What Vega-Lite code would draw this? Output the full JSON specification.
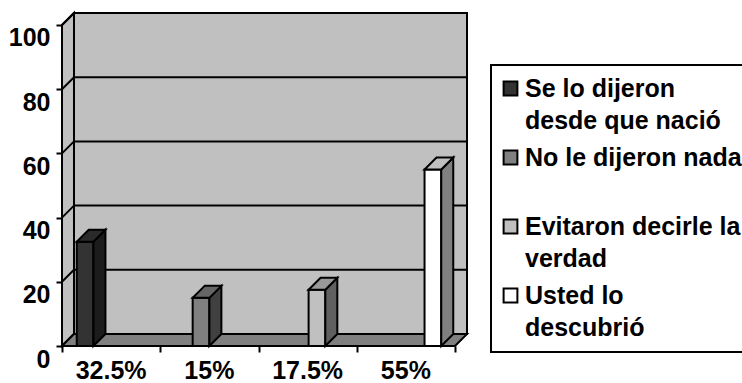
{
  "$schema": "https://vega.github.io/schema/vega-lite/v6.json",
  "width": 405,
  "height": 333,
  "autosize": {"type": "none"},
  "padding": {"left": 62, "top": 13, "right": 275, "bottom": 37},
  "background": "white",
  "params": [
    {"name": "px", "value": 0.1221},
    {"name": "py", "value": 3.738}
  ],
  "datasets": {
    "respuestas": [
      {"respuesta": "Se lo dijeron desde que nació", "porcentaje": 32.5},
      {"respuesta": "No le dijeron nada", "porcentaje": 15},
      {"respuesta": "Evitaron decirle la verdad", "porcentaje": 17.5},
      {"respuesta": "Usted lo descubrió", "porcentaje": 55}
    ],
    "niveles": [
      {"nivel": 0}, {"nivel": 20}, {"nivel": 40}, {"nivel": 60}, {"nivel": 80}, {"nivel": 100}
    ],
    "planos": [{"plano": "caja"}]
  },
  "config": {
    "view": {"stroke": null},
    "font": "Liberation Sans",
    "axis": {"grid": false, "domain": false, "title": null},
    "legend": {
      "orient": "none",
      "legendX": 429,
      "legendY": 52,
      "strokeColor": "black",
      "strokeWidth": 2,
      "fillColor": "white",
      "padding": 11,
      "title": null,
      "symbolType": "square",
      "symbolSize": 190,
      "symbolOffset": -4,
      "symbolStrokeColor": "black",
      "symbolStrokeWidth": 2,
      "symbolOpacity": 1,
      "labelFont": "Liberation Sans",
      "labelFontSize": 25,
      "labelFontWeight": "bold",
      "labelColor": "black",
      "labelOffset": 2,
      "labelLimit": 0,
      "labelBaseline": "middle",
      "rowPadding": 11
    }
  },
  "layer": [
    {
      "data": {"name": "planos"},
      "transform": [
        {"calculate": "px", "as": "x0"},
        {"calculate": "4 + px", "as": "x1"},
        {"calculate": "py", "as": "y0"},
        {"calculate": "100 + py", "as": "y1"}
      ],
      "mark": {"type": "rect", "fill": "#c0c0c0", "stroke": "black", "strokeWidth": 2},
      "encoding": {
        "x": {
          "field": "x0", "type": "quantitative", "title": null,
          "scale": {"domain": [0, 4.1221], "nice": false, "zero": false},
          "axis": {
            "values": [0, 1, 2, 3, 4], "labels": false, "domain": false, "grid": false,
            "ticks": true, "tickSize": 6, "tickWidth": 2, "tickColor": "black", "title": null
          }
        },
        "x2": {"field": "x1"},
        "y": {
          "field": "y0", "type": "quantitative", "title": null,
          "scale": {"domain": [0, 103.738], "nice": false, "zero": false},
          "axis": {
            "values": [0, 20, 40, 60, 80, 100], "domain": false, "grid": false,
            "ticks": true, "tickSize": 6, "tickWidth": 2, "tickColor": "black",
            "labelFont": "Liberation Sans", "labelFontSize": 25, "labelFontWeight": "bold",
            "labelColor": "black", "labelPadding": 6, "labelOffset": 13, "title": null
          }
        },
        "y2": {"field": "y1"}
      }
    },
    {
      "data": {"name": "niveles"},
      "transform": [
        {"calculate": "px", "as": "x0"},
        {"calculate": "4 + px", "as": "x1"},
        {"calculate": "datum.nivel + py", "as": "yf"}
      ],
      "mark": {"type": "rule", "stroke": "black", "strokeWidth": 2},
      "encoding": {
        "x": {"field": "x0", "type": "quantitative", "title": null},
        "x2": {"field": "x1"},
        "y": {"field": "yf", "type": "quantitative", "title": null}
      }
    },
    {
      "data": {"name": "planos"},
      "transform": [
        {"calculate": "[0, 1]", "as": "z"},
        {"flatten": ["z"]},
        {"calculate": "datum.z * px", "as": "sx"},
        {"calculate": "datum.z * py", "as": "y0"},
        {"calculate": "100 + datum.z * py", "as": "y1"}
      ],
      "mark": {"type": "area", "orient": "vertical", "fill": "#c0c0c0", "stroke": "black", "strokeWidth": 2},
      "encoding": {
        "x": {"field": "sx", "type": "quantitative", "title": null},
        "y": {"field": "y0", "type": "quantitative", "title": null},
        "y2": {"field": "y1"}
      }
    },
    {
      "data": {"name": "niveles"},
      "transform": [
        {"calculate": "0", "as": "x0"},
        {"calculate": "px", "as": "x1"},
        {"calculate": "datum.nivel + py", "as": "yf"}
      ],
      "mark": {"type": "rule", "stroke": "black", "strokeWidth": 2},
      "encoding": {
        "x": {"field": "x0", "type": "quantitative", "title": null},
        "x2": {"field": "x1"},
        "y": {"field": "nivel", "type": "quantitative", "title": null},
        "y2": {"field": "yf"}
      }
    },
    {
      "data": {"name": "planos"},
      "transform": [
        {"calculate": "[0, 1]", "as": "z"},
        {"flatten": ["z"]},
        {"calculate": "datum.z * py", "as": "sy"},
        {"calculate": "datum.z * px", "as": "x0"},
        {"calculate": "4 + datum.z * px", "as": "x1"}
      ],
      "mark": {"type": "area", "orient": "horizontal", "fill": "#808080", "stroke": "black", "strokeWidth": 2},
      "encoding": {
        "y": {"field": "sy", "type": "quantitative", "title": null},
        "x": {"field": "x0", "type": "quantitative", "title": null},
        "x2": {"field": "x1"}
      }
    },
    {
      "data": {"name": "respuestas"},
      "transform": [
        {"window": [{"op": "row_number", "as": "n"}]},
        {"calculate": "datum.n - 1 + 0.15 + 0.18 * (datum.n - 1)", "as": "x0"},
        {"calculate": "datum.x0 + 0.17", "as": "x1"}
      ],
      "mark": {"type": "rect", "stroke": "black", "strokeWidth": 2},
      "encoding": {
        "x": {"field": "x0", "type": "quantitative", "title": null},
        "x2": {"field": "x1"},
        "y": {"field": "porcentaje", "type": "quantitative", "title": null},
        "y2": {"datum": 0},
        "color": {
          "field": "respuesta", "type": "nominal",
          "scale": {
            "domain": ["Se lo dijeron desde que nació", "No le dijeron nada", "Evitaron decirle la verdad", "Usted lo descubrió"],
            "range": ["#333333", "#808080", "#c0c0c0", "#ffffff"]
          },
          "legend": {
            "labelExpr": "datum.label == 'Se lo dijeron desde que nació' ? ['Se lo dijeron', 'desde que nació'] : datum.label == 'No le dijeron nada' ? ['No le dijeron nada', ''] : datum.label == 'Evitaron decirle la verdad' ? ['Evitaron decirle la', 'verdad'] : ['Usted lo', 'descubrió']",
            "encode": {"labels": {"update": {"lineHeight": {"value": 32}}}}
          }
        }
      }
    },
    {
      "data": {"name": "respuestas"},
      "transform": [
        {"window": [{"op": "row_number", "as": "n"}]},
        {"calculate": "datum.n - 1 + 0.15 + 0.18 * (datum.n - 1) + 0.17", "as": "x1"},
        {"calculate": "[0, 1]", "as": "z"},
        {"flatten": ["z"]},
        {"calculate": "datum.x1 + datum.z * px", "as": "sx"},
        {"calculate": "datum.z * py", "as": "ya"},
        {"calculate": "datum.porcentaje + datum.z * py", "as": "yb"}
      ],
      "mark": {"type": "area", "orient": "vertical", "stroke": "black", "strokeWidth": 2},
      "encoding": {
        "x": {"field": "sx", "type": "quantitative", "title": null},
        "y": {"field": "ya", "type": "quantitative", "title": null},
        "y2": {"field": "yb"},
        "fill": {
          "field": "respuesta", "type": "nominal", "legend": null,
          "scale": {
            "domain": ["Se lo dijeron desde que nació", "No le dijeron nada", "Evitaron decirle la verdad", "Usted lo descubrió"],
            "range": ["#1c1c1c", "#404040", "#606060", "#808080"]
          }
        }
      }
    },
    {
      "data": {"name": "respuestas"},
      "transform": [
        {"window": [{"op": "row_number", "as": "n"}]},
        {"calculate": "datum.n - 1 + 0.15 + 0.18 * (datum.n - 1)", "as": "x0"},
        {"calculate": "[0, 1]", "as": "z"},
        {"flatten": ["z"]},
        {"calculate": "datum.x0 + datum.z * px", "as": "xa"},
        {"calculate": "datum.x0 + 0.17 + datum.z * px", "as": "xb"},
        {"calculate": "datum.porcentaje + datum.z * py", "as": "sy"}
      ],
      "mark": {"type": "area", "orient": "horizontal", "stroke": "black", "strokeWidth": 2},
      "encoding": {
        "y": {"field": "sy", "type": "quantitative", "title": null},
        "x": {"field": "xa", "type": "quantitative", "title": null},
        "x2": {"field": "xb"},
        "fill": {
          "field": "respuesta", "type": "nominal", "legend": null,
          "scale": {
            "domain": ["Se lo dijeron desde que nació", "No le dijeron nada", "Evitaron decirle la verdad", "Usted lo descubrió"],
            "range": ["#2a2a2a", "#666666", "#999999", "#c0c0c0"]
          }
        }
      }
    },
    {
      "data": {"name": "respuestas"},
      "transform": [
        {"window": [{"op": "row_number", "as": "n"}]},
        {"calculate": "datum.n - 0.5", "as": "xm"},
        {"calculate": "format(datum.porcentaje, '.1~f') + '%'", "as": "etiqueta"}
      ],
      "mark": {
        "type": "text", "baseline": "top", "align": "center", "dy": 13,
        "font": "Liberation Sans", "fontSize": 25, "fontWeight": "bold", "color": "black"
      },
      "encoding": {
        "x": {"field": "xm", "type": "quantitative", "title": null},
        "y": {"datum": 0, "type": "quantitative"},
        "text": {"field": "etiqueta"}
      }
    }
  ],
  "resolve": {"scale": {"fill": "independent"}}
}
